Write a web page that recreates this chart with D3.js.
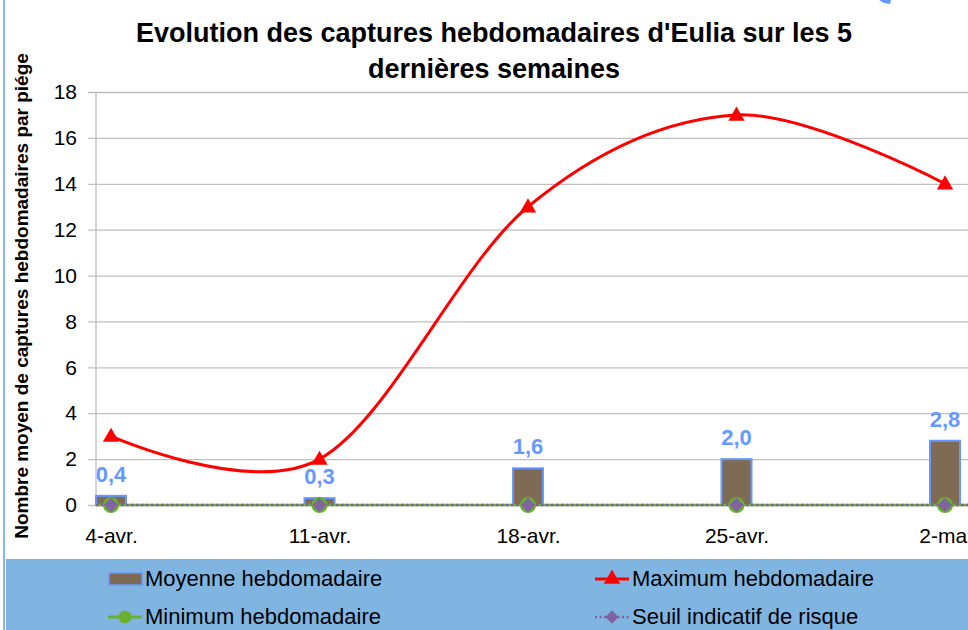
<!DOCTYPE html>
<html>
<head>
<meta charset="utf-8">
<script src="https://cdn.jsdelivr.net/npm/d3@7/dist/d3.min.js"></script>
<style>
  html, body { margin: 0; padding: 0; background: #fff; }
  svg { display: block; }
  text { font-family: "Liberation Sans", Arial, sans-serif; }
</style>
</head>
<body>
<svg id="chart" width="968" height="630"></svg>
<script>
// Weekly catch data
const categories = ["4-avr.", "11-avr.", "18-avr.", "25-avr.", "2-mai"];
const moyenne = [0.4, 0.3, 1.6, 2.0, 2.8];
const maximum = [3, 2, 13, 17, 14];
const minimum = [0, 0, 0, 0, 0];
const seuil = [0, 0, 0, 0, 0];
const yTicks = [0, 2, 4, 6, 8, 10, 12, 14, 16, 18];

const titleLines = ["Evolution des captures hebdomadaires d'Eulia sur les 5", "dernières semaines"];
const yTitle = "Nombre moyen de captures hebdomadaires par piége";
const legendItems = ["Moyenne hebdomadaire", "Maximum hebdomadaire", "Minimum hebdomadaire", "Seuil indicatif de risque"];

const colors = {
  bar: "#7F6A53", barStroke: "#6699FF", label: "#6699FF",
  max: "#FF0000", min: "#6AAF2E", seuil: "#8064A2",
  grid: "#BFBFBF", legendBg: "#80B5E2", border: "#6699FF"
};

const svg = d3.select("#chart");
const W = 968, H = 630;
const plot = { left: 96, right: 968, top: 92, bottom: 505 };

const x = d3.scalePoint().domain(categories).range([111, 945]);
const y = d3.scaleLinear().domain([0, 18]).range([plot.bottom, plot.top]);

// outer chart border (left edge visible)
svg.append("line").attr("x1", 4).attr("x2", 4).attr("y1", 0).attr("y2", H)
  .attr("stroke", colors.border).attr("stroke-width", 1.5);
// small fragment at the top edge
svg.append("path").attr("d", "M879,0 L891,0 L890,4 L884,3 Z").attr("fill", colors.border);

// title
const title = svg.append("text").attr("text-anchor", "middle")
  .attr("font-weight", "bold").attr("font-size", 27).attr("fill", "#000");
titleLines.forEach((t, i) => {
  title.append("tspan").attr("x", 494).attr("y", 42 + i * 36).text(t);
});

// y gridlines + axis
const yAxis = d3.axisLeft(y).tickValues(yTicks).tickSize(-(plot.right - plot.left)).tickPadding(19)
  .tickFormat(d3.format("d"));
const gy = svg.append("g").attr("transform", `translate(${plot.left},0)`).call(yAxis);
gy.select(".domain").remove();
gy.selectAll(".tick line").attr("stroke", colors.grid).attr("stroke-width", 1.3).attr("x1", -8);
gy.selectAll(".tick text").attr("font-size", 21).attr("fill", "#000")
  .style("font-family", "'Liberation Sans', Arial, sans-serif");
svg.append("line").attr("x1", plot.left).attr("x2", plot.left)
  .attr("y1", plot.top).attr("y2", plot.bottom).attr("stroke", colors.grid).attr("stroke-width", 1.3);

// y axis title
svg.append("text").attr("transform", `translate(28,296) rotate(-90)`)
  .attr("text-anchor", "middle").attr("font-weight", "bold").attr("font-size", 19)
  .attr("fill", "#000").text(yTitle);

// x axis labels
const xAxis = d3.axisBottom(x).tickSize(0).tickPadding(23);
const gx = svg.append("g").attr("transform", `translate(0,${plot.bottom})`).call(xAxis);
gx.select(".domain").remove();
gx.selectAll(".tick text").attr("font-size", 21).attr("fill", "#000")
  .style("font-family", "'Liberation Sans', Arial, sans-serif");

// bars
const barW = 30;
svg.append("g").selectAll("rect").data(moyenne).join("rect")
  .attr("x", (d, i) => x(categories[i]) - barW / 2)
  .attr("y", d => y(d))
  .attr("width", barW)
  .attr("height", d => y(0) - y(d))
  .attr("fill", colors.bar).attr("stroke", colors.barStroke).attr("stroke-width", 2);

// bar value labels
svg.append("g").selectAll("text").data(moyenne).join("text")
  .attr("x", (d, i) => x(categories[i]))
  .attr("y", d => y(d) - 14)
  .attr("text-anchor", "middle").attr("font-weight", "bold").attr("font-size", 22)
  .attr("fill", colors.label)
  .text(d => d3.format(".1f")(d).replace(".", ","));

// maximum smoothed line
const smooth = d3.line()
  .x((d, i) => x(categories[i])).y(d => y(d))
  .curve(d3.curveCatmullRom.alpha(0));
svg.append("path").attr("d", smooth(maximum)).attr("fill", "none")
  .attr("stroke", colors.max).attr("stroke-width", 3);

// minimum line (solid green) and risk threshold (dotted purple), across the plot
const straight = d3.line().x(d => d[0]).y(d => y(d[1]));
svg.append("path").attr("d", straight([[plot.left, minimum[0]], [plot.right, minimum[minimum.length - 1]]]))
  .attr("fill", "none").attr("stroke", colors.min).attr("stroke-width", 2.5);
svg.append("path").attr("d", straight([[plot.left, seuil[0]], [plot.right, seuil[seuil.length - 1]]]))
  .attr("fill", "none").attr("stroke", colors.seuil).attr("stroke-width", 2.5)
  .attr("stroke-dasharray", "2.5,2.5");

// markers
const tri = d3.symbol().type(d3.symbolTriangle).size(115);
const sq = d3.symbol().type(d3.symbolSquare).size(105);
svg.append("g").selectAll("path").data(maximum).join("path")
  .attr("transform", (d, i) => `translate(${x(categories[i])},${y(d) + 1})`)
  .attr("d", tri).attr("fill", colors.max);
svg.append("g").selectAll("circle").data(minimum).join("circle")
  .attr("cx", (d, i) => x(categories[i])).attr("cy", d => y(d)).attr("r", 8)
  .attr("fill", colors.min);
svg.append("g").selectAll("path").data(seuil).join("path")
  .attr("transform", (d, i) => `translate(${x(categories[i])},${y(d)}) rotate(45)`)
  .attr("d", sq).attr("fill", colors.seuil);

// legend band
svg.append("rect").attr("x", 6).attr("y", 559).attr("width", W - 6).attr("height", H - 559)
  .attr("fill", colors.legendBg);

const lg = svg.append("g");
const rows = [579, 617];
const cols = [108, 595];
const legSq = d3.symbol().type(d3.symbolSquare).size(90);
legendItems.forEach((name, k) => {
  const cx = cols[k % 2], cy = rows[Math.floor(k / 2)];
  const g = lg.append("g");
  if (k === 0) {
    g.append("rect").attr("x", cx + 1).attr("y", cy - 6).attr("width", 33).attr("height", 12)
      .attr("fill", colors.bar).attr("stroke", colors.barStroke).attr("stroke-width", 1.5);
  } else if (k === 1) {
    g.append("line").attr("x1", cx).attr("x2", cx + 34).attr("y1", cy).attr("y2", cy)
      .attr("stroke", colors.max).attr("stroke-width", 3);
    g.append("path").attr("transform", `translate(${cx + 17},${cy})`).attr("d", tri).attr("fill", colors.max);
  } else if (k === 2) {
    g.append("line").attr("x1", cx).attr("x2", cx + 34).attr("y1", cy).attr("y2", cy)
      .attr("stroke", colors.min).attr("stroke-width", 3);
    g.append("circle").attr("cx", cx + 17).attr("cy", cy).attr("r", 6.5).attr("fill", colors.min);
  } else {
    g.append("line").attr("x1", cx).attr("x2", cx + 34).attr("y1", cy).attr("y2", cy)
      .attr("stroke", colors.seuil).attr("stroke-width", 2.5).attr("stroke-dasharray", "2,2.5");
    g.append("path").attr("transform", `translate(${cx + 17},${cy}) rotate(45)`).attr("d", legSq).attr("fill", colors.seuil);
  }
  g.append("text").attr("x", cx + 37).attr("y", cy + 7).attr("font-size", 22).attr("fill", "#000").text(name);
});
</script>
</body>
</html>
